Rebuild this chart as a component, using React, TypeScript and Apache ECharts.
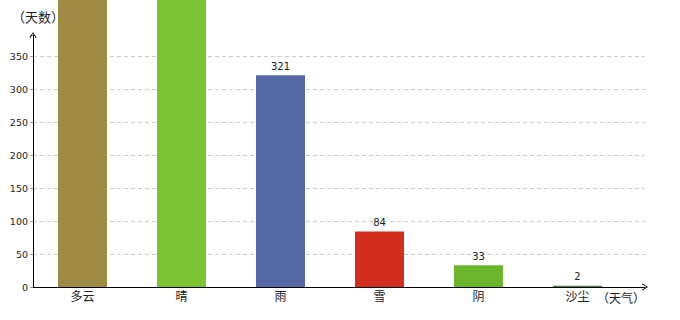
import React, { useEffect, useRef } from "react";
import * as echarts from "echarts";

const categories = ["多云", "晴", "雨", "雪", "阴", "沙尘"];
const values = [745, 598, 321, 84, 33, 2];
const barColors = ["#A08B45", "#7AC434", "#5468A6", "#D22D1E", "#6BB52D", "#4C7A37"];
const yTickLabels = ["0", "50", "100", "150", "200", "250", "300", "350"];

const CHEVRON = "path://M5,0 L10,8 L8.8,8.8 L5,2 L1.2,8.8 L0,8 Z";

export default function App() {
  const ref = useRef<HTMLDivElement>(null);
  useEffect(() => {
    if (!ref.current) return;
    const chart = echarts.init(ref.current, null, { renderer: "svg" });
    const catWidth = 99;
    const gridLeft = 33;
    const gridRight = 35;
    const plotWidth = 680 - gridLeft - gridRight;
    const gridTop = 35;
    const gridBottom = 33;
    const pxPerUnit = 231 / 350;
    const yMax = (320 - gridTop - gridBottom) / pxPerUnit;
    const data = values.map((v, i) => ({
      value: [i + 0.5, v],
      itemStyle: { color: barColors[i] },
      label: { show: v < yMax },
    }));
    chart.setOption({
      animation: false,
      grid: { left: gridLeft, right: gridRight, top: gridTop, bottom: gridBottom, containLabel: false },
      xAxis: {
        type: "value",
        min: 0,
        max: plotWidth / catWidth,
        interval: 0.5,
        name: "（天气）",
        nameLocation: "end",
        nameGap: 0,
        nameTextStyle: {
          align: "right",
          verticalAlign: "top",
          padding: [4, 0, 0, 0],
          fontFamily: "Noto Sans CJK SC",
          fontSize: 12,
          color: "#222",
        },
        axisLine: {
          show: true,
          lineStyle: { color: "#000", width: 1 },
          symbol: ["none", CHEVRON],
          symbolSize: [7, 7],
        },
        axisTick: { show: false },
        splitLine: { show: false },
        axisLabel: {
          margin: 2,
          fontFamily: "Noto Sans CJK SC",
          fontSize: 12,
          color: "#222",
          showMaxLabel: false,
          formatter: (v: number) => {
            const idx = Math.round(v - 0.5);
            if (Math.abs(v - 0.5 - idx) < 1e-6 && idx >= 0 && idx < categories.length) {
              return categories[idx];
            }
            return "";
          },
        },
      },
      yAxis: {
        type: "value",
        min: 0,
        max: yMax,
        interval: 50,
        name: "（天数）",
        nameLocation: "end",
        nameGap: 19,
        nameTextStyle: {
          align: "center",
          verticalAlign: "middle",
          padding: [0, 0, 0, 10],
          fontFamily: "Noto Sans CJK SC",
          fontSize: 13,
          color: "#222",
        },
        axisLine: {
          show: true,
          lineStyle: { color: "#000", width: 1 },
          symbol: ["none", CHEVRON],
          symbolSize: [7, 7],
        },
        axisTick: { show: true, length: 3, lineStyle: { color: "#999" } },
        splitLine: {
          show: true,
          lineStyle: {
            color: ["#ccc", "#ccc", "#ccc", "#ccc", "#ccc", "#ccc", "#ccc", "#ccc", "rgba(0,0,0,0)"],
            type: [4, 3],
            width: 1,
          },
        },
        axisLabel: {
          margin: 5,
          fontFamily: "DejaVu Sans",
          fontSize: 9.5,
          color: "#222",
          formatter: (v: number) => {
            const s = String(Math.round(v));
            return Math.abs(v % 50) < 1e-6 && yTickLabels.includes(s) ? s : "";
          },
        },
      },
      series: [
        {
          type: "bar",
          data,
          barWidth: 49,
          clip: false,
          z: 5,
          label: {
            show: true,
            position: "top",
            distance: 4,
            fontFamily: "DejaVu Sans",
            fontSize: 10,
            color: "#222",
            formatter: (p: any) => String(p.value[1]),
          },
        },
      ],
    });
    return () => chart.dispose();
  }, []);
  return (
    <div
      ref={ref}
      style={{ position: "fixed", left: 0, top: 0, width: 680, height: 320, background: "#fff" }}
    />
  );
}
